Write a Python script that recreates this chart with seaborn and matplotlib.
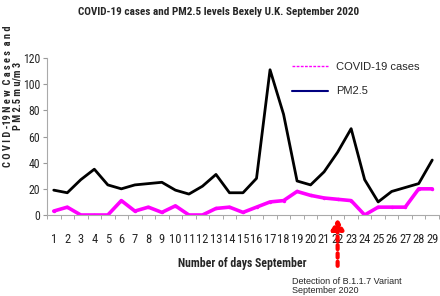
import matplotlib
matplotlib.use("Agg")
import matplotlib.pyplot as plt
from matplotlib.lines import Line2D
import seaborn as sns
import pandas as pd
import numpy as np

days = list(range(1, 30))
covid_cases = [3, 6, 0, 0, 0, 11, 3, 6, 2, 7, 0, 0, 5, 6, 2, 6, 10, 11, 18, 15,
               13, 12, 11, 0, 6, 6, 6, 20, 20]
pm25 = [19, 17, 27, 35, 23, 20, 23, 24, 25, 19, 16, 22, 31, 17, 17, 28, 111, 77,
        26, 23, 33, 48, 66, 27, 10, 18, 21, 24, 42]
yticks = [0, 20, 40, 60, 80, 100, 120]

df = pd.DataFrame({"day": days, "COVID-19 cases": covid_cases, "PM2.5": pm25})

sns.set_style("white")
COND = ['Roboto Condensed', 'Archivo Narrow', 'DejaVu Sans']
REG = ['Liberation Sans', 'DejaVu Sans']
plt.rcParams['font.family'] = COND

fig = plt.figure(figsize=(4.4, 2.96), dpi=100)
ax = fig.add_axes([47/440, 1 - 215/296, (439-47)/440, (215-58)/296])

sns.lineplot(data=df, x="day", y="PM2.5", ax=ax, color="black", lw=2)
sns.lineplot(data=df, x="day", y="COVID-19 cases", ax=ax, color="#ff00ff", lw=2.6,
             marker="o", markersize=2.5, markeredgewidth=0)

ax.set_xlim(0.5, 29.5)
ax.set_ylim(0, 120)
ax.set_xticks(days)
ax.set_xticklabels([str(d) for d in days], fontsize=9)
ax.set_xticks(np.arange(0.5, 30, 1), minor=True)
ax.tick_params(axis='x', which='major', length=0, pad=13)
ax.tick_params(axis='x', which='minor', length=3, color='#999999', direction='out', bottom=True)
ax.set_yticks(yticks)
ax.set_yticklabels([str(v) for v in yticks], fontsize=8.5)
ax.tick_params(axis='y', length=3, color='#999999', left=True, pad=2)
ax.set_xlabel("")
ax.set_ylabel("")
for s in ["top", "right"]:
    ax.spines[s].set_visible(False)
for s in ["left", "bottom"]:
    ax.spines[s].set_color("#aaaaaa")
    ax.spines[s].set_linewidth(0.8)

fig.text(219/440, 1 - 12/296, "COVID-19 cases and PM2.5 levels Bexely U.K. September 2020",
         ha="center", va="center", fontsize=8, fontweight="bold")
fig.text(242/440, 1 - 263/296, "Number of days September", ha="center", va="center",
         fontsize=8.5, fontweight="bold")
fig.text(13/440, 1 - 96/296,
         "C O V I D -19 N e w  C a s e s  a n d\nP M 2.5 m u/m 3",
         rotation=90, ha="center", va="center", multialignment="center",
         fontsize=7.5, fontweight="bold", linespacing=0.9)

ax.annotate("", xy=(22, -0.5), xycoords="data",
            xytext=(22, -41), textcoords="data",
            arrowprops=dict(arrowstyle="-|>,head_length=0.6,head_width=0.35",
                            color="red", lw=3, linestyle=(0, (1, 1))),
            annotation_clip=False)
fig.text(292/440, 1 - 282/296, "Detection of B.1.1.7 Variant", ha="left", va="center",
         fontsize=6.5, family=REG)
fig.text(292/440, 1 - 290.5/296, "September 2020", ha="left", va="center",
         fontsize=6.5, family=REG)

handles = [Line2D([0], [0], color="#ff00ff", lw=1, linestyle=(0, (2, 1))),
           Line2D([0], [0], color="#000080", lw=1.5)]
leg = ax.legend(handles, ["COVID-19 cases", "PM2.5"], loc="upper left",
                frameon=False, handlelength=3.2,
                labelspacing=1.3, prop={'family': REG, 'size': 8})
leg.set_bbox_to_anchor((282/440, 1 - 52/296), transform=fig.transFigure)

fig.savefig("out.png", dpi=100, facecolor="white")
